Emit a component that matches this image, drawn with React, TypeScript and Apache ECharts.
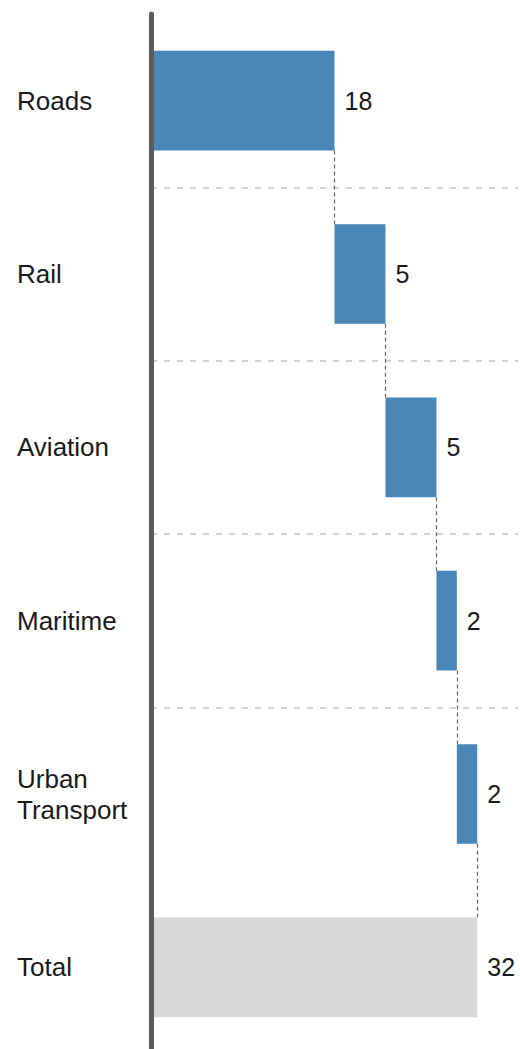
import React, { useEffect, useRef } from "react";
import * as echarts from "echarts";

const categories = ["Roads", "Rail", "Aviation", "Maritime", "Urban\nTransport", "Total"];
const increments = [18, 5, 5, 2, 2];
const totalValue = 32;
const barColor = "#4a87b9";
const totalColor = "#d8d8d8";
const barRatio = 0.575;

export default function App() {
  const ref = useRef<HTMLDivElement>(null);
  useEffect(() => {
    if (!ref.current) return;
    const chart = echarts.init(ref.current, null, { renderer: "svg" });

    const bases: number[] = [];
    const cums: number[] = [];
    let acc = 0;
    increments.forEach((v) => {
      bases.push(acc);
      acc += v;
      cums.push(acc);
    });
    bases.push(0);
    const barValues = [...increments, totalValue];

    const half = barRatio / 2;
    const connectors = cums.map((x, i) => [
      { coord: [x, i + 0.5 + half] },
      { coord: [x, i + 1.5 - half] },
    ]);
    const splits = [1, 2, 3, 4].map((y) => ({ yAxis: y }));

    const font = "Liberation Sans, Arial, sans-serif";

    chart.setOption({
      animation: false,
      grid: { left: 151, top: 14, width: 367, height: 1040, containLabel: false },
      xAxis: { type: "value", min: 0, max: 36, show: false },
      yAxis: [
        {
          type: "category",
          data: categories,
          inverse: true,
          z: 5,
          axisLine: { show: true, lineStyle: { color: "#5c5c5c", width: 5 } },
          axisTick: { show: false },
          splitLine: { show: false },
          axisLabel: {
            fontSize: 26,
            color: "#1a1a1a",
            fontFamily: font,
            align: "left",
            margin: 134,
            lineHeight: 31,
          },
        },
        { type: "value", min: 0, max: 6, inverse: true, show: false },
      ],
      series: [
        {
          type: "bar",
          stack: "w",
          data: bases,
          barCategoryGap: (1 - barRatio) * 100 + "%",
          itemStyle: { color: "transparent" },
          silent: true,
        },
        {
          type: "bar",
          stack: "w",
          data: barValues.map((v, i) => ({
            value: v,
            itemStyle: { color: i === barValues.length - 1 ? totalColor : barColor },
          })),
          barCategoryGap: (1 - barRatio) * 100 + "%",
          label: {
            show: true,
            position: "right",
            distance: 10,
            fontSize: 25,
            color: "#1a1a1a",
            fontFamily: font,
          },
        },
        {
          type: "line",
          xAxisIndex: 0,
          yAxisIndex: 1,
          data: [],
          silent: true,
          markLine: {
            symbol: "none",
            silent: true,
            label: { show: false },
            lineStyle: { color: "#c4c4c4", type: [6, 7], width: 1.5 },
            data: splits,
          },
        },
        {
          type: "line",
          xAxisIndex: 0,
          yAxisIndex: 1,
          data: [],
          silent: true,
          markLine: {
            symbol: "none",
            silent: true,
            label: { show: false },
            lineStyle: { color: "#666666", type: [4, 3], width: 1.2 },
            data: connectors,
          },
        },
      ],
    });
    return () => chart.dispose();
  }, []);
  return (
    <div
      ref={ref}
      style={{ position: "fixed", left: 0, top: 0, width: 520, height: 1060, background: "#fff" }}
    />
  );
}
